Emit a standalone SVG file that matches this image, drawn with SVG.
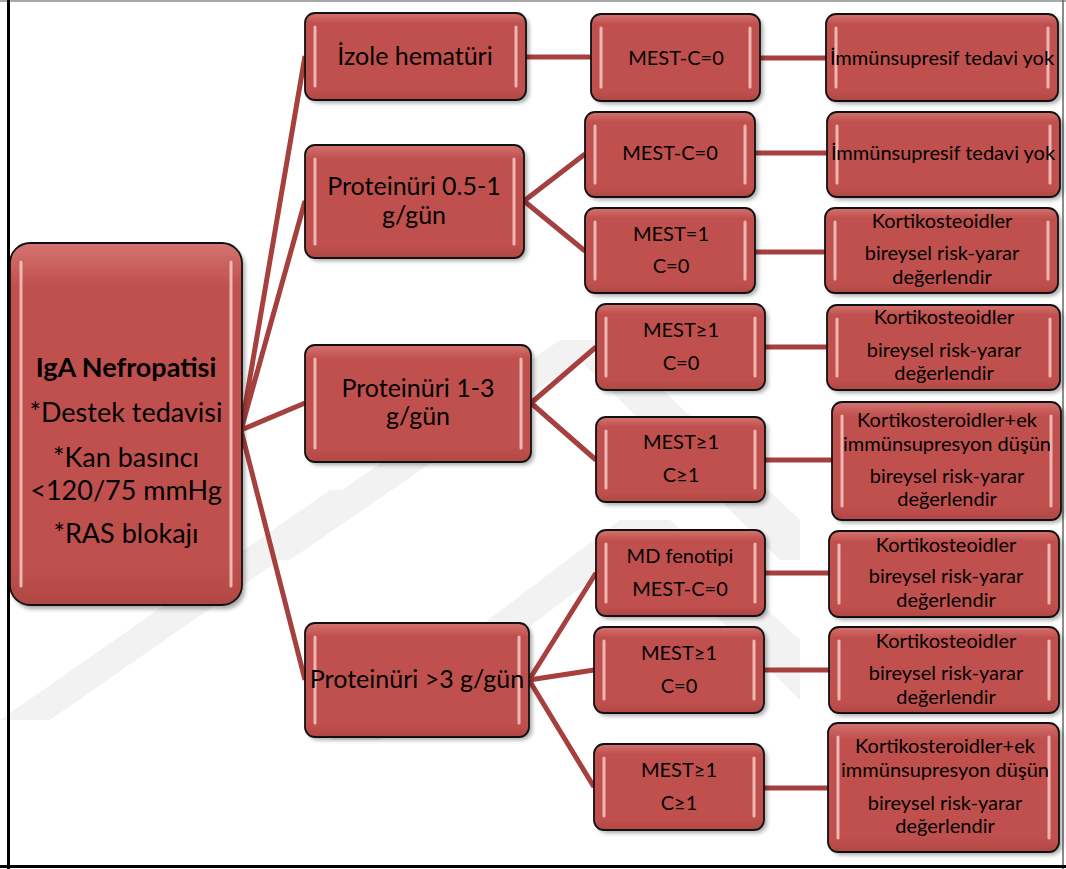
<svg xmlns="http://www.w3.org/2000/svg" width="1066" height="869" viewBox="0 0 1066 869">
<defs>
<linearGradient id="fillg" x1="0" y1="0" x2="0" y2="1">
<stop offset="0" stop-color="#d47471"/>
<stop offset="0.12" stop-color="#c0504d"/>
<stop offset="0.88" stop-color="#c0504d"/>
<stop offset="1" stop-color="#b04744"/>
</linearGradient>
<filter id="sh" x="-10%" y="-10%" width="130%" height="130%">
<feGaussianBlur stdDeviation="2"/>
</filter>
</defs>
<style>
.wm{fill:#f2f2f2}
.con{stroke:#a5403e;stroke-width:5;fill:none;stroke-linecap:butt}
.shadow{fill:#000;opacity:0.35;filter:url(#sh)}
.box{fill:url(#fillg);stroke:#111;stroke-width:1.8}
.hl{stroke:#f4c2c0;stroke-width:3;fill:none;stroke-linecap:round;opacity:0.9}
text{font-family:Lato,"Liberation Sans",sans-serif;fill:#000;text-anchor:middle}
.t0{font-size:27px}
.t0b{font-size:27px;font-weight:bold}
.t1{font-size:25px}
.t2{font-size:20px}
</style>
<rect x="0" y="0" width="1066" height="869" fill="#ffffff"/>
<g id="watermark">
<polygon class="wm" points="240,560 560,340 610,340 290,560"/>
<polygon class="wm" points="0,720 330,490 380,490 50,720"/>
<polygon class="wm" points="330,740 620,520 670,520 380,740"/>
<polygon class="wm" points="560,340 610,340 800,520 800,560 780,560"/>
<polygon class="wm" points="620,520 670,520 800,640 800,700"/>
</g>
<g id="border">
<line x1="0" y1="1" x2="1066" y2="1" stroke="#8a8a8a" stroke-width="1.5"/>
<line x1="1063" y1="0" x2="1063" y2="869" stroke="#666" stroke-width="1.5"/>
<line x1="8.5" y1="0" x2="8.5" y2="869" stroke="#000" stroke-width="3"/>
<line x1="0" y1="866.5" x2="1066" y2="866.5" stroke="#000" stroke-width="3"/>
</g>
<g id="connectors">
<path class="con" d="M241,430 L305,56 M241,430 L305,201 M241,430 L305,403 M241,430 L305,680"/>
<path class="con" d="M526,57 L591,57"/>
<path class="con" d="M524,201 L585,154 M524,201 L585,251"/>
<path class="con" d="M531,403 L596,347 M531,403 L596,460"/>
<path class="con" d="M529,680 L596,573 M529,680 L594,670 M529,680 L594,787"/>
<path class="con" d="M760,58 L826,58 M755,153 L827,153 M755,252 L825,252 M765,347 L827,347 M765,460 L832,460 M765,573 L829,573 M764,670 L829,670 M764,788 L828,788"/>
</g>
<g id="root">
<rect class="shadow" x="13" y="247" width="232" height="362" rx="20"/>
<rect class="box" x="10" y="243" width="232" height="362" rx="20"/>
<path class="hl" d="M21,262 V586 M231,262 V586"/>
<text class="t0b" x="126" y="377">IgA Nefropatisi</text>
<text class="t0" x="126" y="422">*Destek tedavisi</text>
<text class="t0" x="126" y="467">*Kan basıncı</text>
<text class="t0" x="126" y="500">&lt;120/75 mmHg</text>
<text class="t0" x="126" y="543">*RAS blokajı</text>
</g>
<g id="n-izole">
<rect class="shadow" x="308" y="16" width="221" height="87" rx="10"/>
<rect class="box" x="305" y="13" width="221" height="87" rx="10"/>
<path class="hl" d="M315,27 V86 M516,27 V86"/>
<text class="t1" x="415" y="65">İzole hematüri</text>
</g>
<g id="n-p05">
<rect class="shadow" x="308" y="148" width="219" height="113" rx="10"/>
<rect class="box" x="305" y="145" width="219" height="113" rx="10"/>
<path class="hl" d="M315,159 V244 M514,159 V244"/>
<text class="t1" x="414" y="195">Proteinüri 0.5-1</text>
<text class="t1" x="414" y="224">g/gün</text>
</g>
<g id="n-p13">
<rect class="shadow" x="308" y="348" width="226" height="117" rx="10"/>
<rect class="box" x="305" y="345" width="226" height="117" rx="10"/>
<path class="hl" d="M315,359 V448 M521,359 V448"/>
<text class="t1" x="418" y="397">Proteinüri 1-3</text>
<text class="t1" x="418" y="425">g/gün</text>
</g>
<g id="n-p3">
<rect class="shadow" x="308" y="626" width="224" height="114" rx="10"/>
<rect class="box" x="305" y="623" width="224" height="114" rx="10"/>
<path class="hl" d="M315,637 V723 M519,637 V723"/>
<text class="t1" x="417" y="688">Proteinüri &gt;3 g/gün</text>
</g>
<g id="a1">
<rect class="shadow" x="594" y="17" width="169" height="87" rx="10"/>
<rect class="box" x="591" y="14" width="169" height="87" rx="10"/>
<path class="hl" d="M601,28 V87 M750,28 V87"/>
<text class="t2" x="676" y="65">MEST-C=0</text>
</g>
<g id="a2">
<rect class="shadow" x="588" y="115" width="170" height="85" rx="10"/>
<rect class="box" x="585" y="112" width="170" height="85" rx="10"/>
<path class="hl" d="M595,126 V183 M745,126 V183"/>
<text class="t2" x="670" y="160">MEST-C=0</text>
</g>
<g id="a3">
<rect class="shadow" x="588" y="211" width="170" height="85" rx="10"/>
<rect class="box" x="585" y="208" width="170" height="85" rx="10"/>
<path class="hl" d="M595,222 V279 M745,222 V279"/>
<text class="t2" x="671" y="241">MEST=1</text>
<text class="t2" x="671" y="273">C=0</text>
</g>
<g id="a4">
<rect class="shadow" x="599" y="307" width="169" height="86" rx="10"/>
<rect class="box" x="596" y="304" width="169" height="86" rx="10"/>
<path class="hl" d="M606,318 V376 M755,318 V376"/>
<text class="t2" x="681" y="337">MEST≥1</text>
<text class="t2" x="681" y="370">C=0</text>
</g>
<g id="a5">
<rect class="shadow" x="599" y="420" width="169" height="85" rx="10"/>
<rect class="box" x="596" y="417" width="169" height="85" rx="10"/>
<path class="hl" d="M606,431 V488 M755,431 V488"/>
<text class="t2" x="681" y="449">MEST≥1</text>
<text class="t2" x="681" y="482">C≥1</text>
</g>
<g id="a6">
<rect class="shadow" x="599" y="533" width="169" height="86" rx="10"/>
<rect class="box" x="596" y="530" width="169" height="86" rx="10"/>
<path class="hl" d="M606,544 V602 M755,544 V602"/>
<text class="t2" x="680" y="563">MD fenotipi</text>
<text class="t2" x="680" y="596">MEST-C=0</text>
</g>
<g id="a7">
<rect class="shadow" x="597" y="630" width="170" height="86" rx="10"/>
<rect class="box" x="594" y="627" width="170" height="86" rx="10"/>
<path class="hl" d="M604,641 V699 M754,641 V699"/>
<text class="t2" x="679" y="660">MEST≥1</text>
<text class="t2" x="679" y="693">C=0</text>
</g>
<g id="a8">
<rect class="shadow" x="597" y="747" width="170" height="86" rx="10"/>
<rect class="box" x="594" y="744" width="170" height="86" rx="10"/>
<path class="hl" d="M604,758 V816 M754,758 V816"/>
<text class="t2" x="679" y="777">MEST≥1</text>
<text class="t2" x="679" y="810">C≥1</text>
</g>
<g id="b1">
<rect class="shadow" x="829" y="17" width="232" height="87" rx="10"/>
<rect class="box" x="826" y="14" width="232" height="87" rx="10"/>
<path class="hl" d="M836,28 V87 M1048,28 V87"/>
<text class="t2" x="942" y="65">İmmünsupresif tedavi yok</text>
</g>
<g id="b2">
<rect class="shadow" x="830" y="115" width="233" height="85" rx="10"/>
<rect class="box" x="827" y="112" width="233" height="85" rx="10"/>
<path class="hl" d="M837,126 V183 M1050,126 V183"/>
<text class="t2" x="943" y="160">İmmünsupresif tedavi yok</text>
</g>
<g id="b3">
<rect class="shadow" x="828" y="211" width="233" height="85" rx="10"/>
<rect class="box" x="825" y="208" width="233" height="85" rx="10"/>
<path class="hl" d="M835,222 V279 M1048,222 V279"/>
<text class="t2" x="942" y="228">Kortikosteoidler</text>
<text class="t2" x="942" y="260">bireysel risk-yarar</text>
<text class="t2" x="942" y="284">değerlendir</text>
</g>
<g id="b4">
<rect class="shadow" x="830" y="308" width="233" height="85" rx="10"/>
<rect class="box" x="827" y="305" width="233" height="85" rx="10"/>
<path class="hl" d="M837,319 V376 M1050,319 V376"/>
<text class="t2" x="944" y="324">Kortikosteoidler</text>
<text class="t2" x="944" y="357">bireysel risk-yarar</text>
<text class="t2" x="944" y="380">değerlendir</text>
</g>
<g id="b5">
<rect class="shadow" x="835" y="405" width="229" height="118" rx="10"/>
<rect class="box" x="832" y="402" width="229" height="118" rx="10"/>
<path class="hl" d="M842,416 V506 M1051,416 V506"/>
<text class="t2" x="947" y="427">Kortikosteroidler+ek</text>
<text class="t2" x="947" y="451">immünsupresyon düşün</text>
<text class="t2" x="947" y="483">bireysel risk-yarar</text>
<text class="t2" x="947" y="506">değerlendir</text>
</g>
<g id="b6">
<rect class="shadow" x="832" y="534" width="230" height="86" rx="10"/>
<rect class="box" x="829" y="531" width="230" height="86" rx="10"/>
<path class="hl" d="M839,545 V603 M1049,545 V603"/>
<text class="t2" x="946" y="552">Kortikosteoidler</text>
<text class="t2" x="946" y="583">bireysel risk-yarar</text>
<text class="t2" x="946" y="607">değerlendir</text>
</g>
<g id="b7">
<rect class="shadow" x="832" y="630" width="230" height="86" rx="10"/>
<rect class="box" x="829" y="627" width="230" height="86" rx="10"/>
<path class="hl" d="M839,641 V699 M1049,641 V699"/>
<text class="t2" x="946" y="648">Kortikosteoidler</text>
<text class="t2" x="946" y="680">bireysel risk-yarar</text>
<text class="t2" x="946" y="704">değerlendir</text>
</g>
<g id="b8">
<rect class="shadow" x="831" y="726" width="231" height="129" rx="10"/>
<rect class="box" x="828" y="723" width="231" height="129" rx="10"/>
<path class="hl" d="M838,737 V838 M1049,737 V838"/>
<text class="t2" x="945" y="753">Kortikosteroidler+ek</text>
<text class="t2" x="945" y="777">immünsupresyon düşün</text>
<text class="t2" x="945" y="810">bireysel risk-yarar</text>
<text class="t2" x="945" y="833">değerlendir</text>
</g>
</svg>
